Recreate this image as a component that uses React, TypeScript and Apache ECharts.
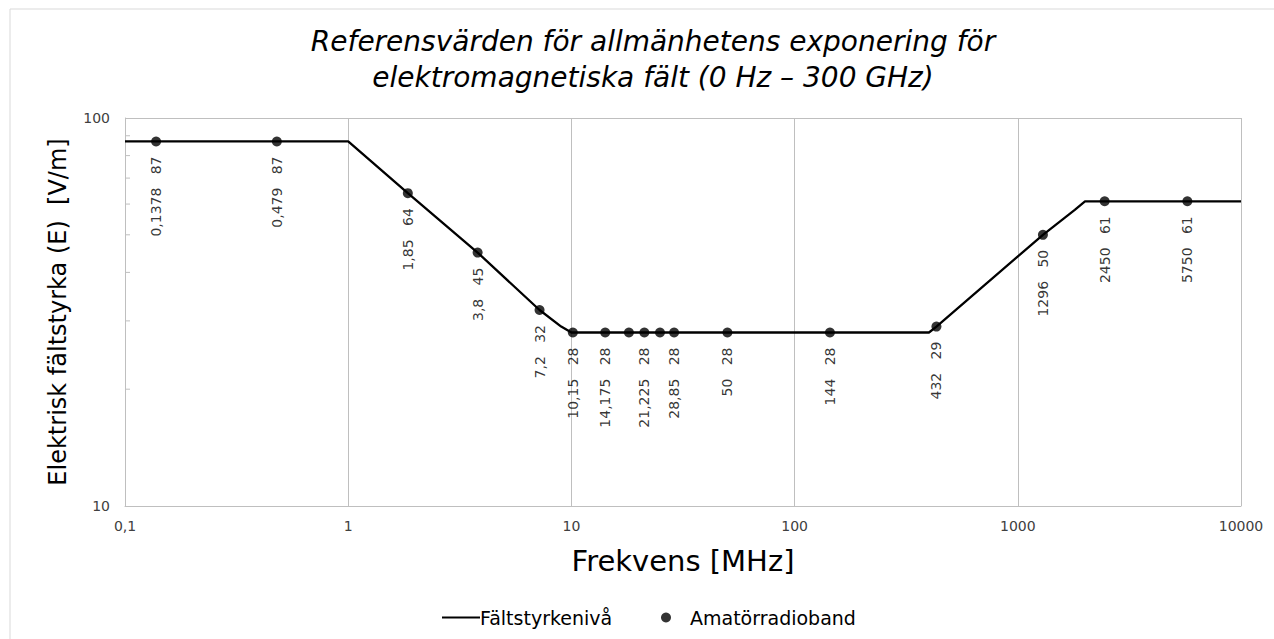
import React, { useEffect, useRef } from 'react';
import * as echarts from 'echarts';

// Field strength reference level line (frequency MHz, V/m)
const lineFreq = [0.1, 1, 1.85, 3.8, 7.2, 9, 10, 400, 432, 1296, 1800, 2000, 10000];
const lineLevel = [87, 87, 64, 45, 32, 29, 28, 28, 29, 50, 58, 61, 61];

// Amateur radio bands (frequency MHz, V/m)
const bandFreq = [0.1378, 0.479, 1.85, 3.8, 7.2, 10.15, 14.175, 18.1, 21.225, 24.94, 28.85, 50, 144, 432, 1296, 2450, 5750];
const bandLevel = [87, 87, 64, 45, 32, 28, 28, 28, 28, 28, 28, 28, 28, 29, 50, 61, 61];
const bandLabelled = [true, true, true, true, true, true, true, false, true, false, true, true, true, true, true, true, true];

const yMinorTicks = [20, 30, 40, 50, 60, 70, 80, 90];

const titleText = 'Referensvärden för allmänhetens exponering för\nelektromagnetiska fält (0 Hz – 300 GHz)';
const xName = 'Frekvens [MHz]';
const yName = 'Elektrisk fältstyrka (E)  [V/m]';
const lineName = 'Fältstyrkenivå';
const bandName = 'Amatörradioband';

const FONT = '"DejaVu Sans", sans-serif';
const fmt = (v: number) => String(v).replace('.', ',');

export default function App() {
  const ref = useRef<HTMLDivElement>(null);
  useEffect(() => {
    document.body.style.margin = '0';
    document.body.style.overflow = 'hidden';
    const chart = echarts.init(ref.current!, null, { renderer: 'svg' });
    chart.setOption({
      animation: false,
      backgroundColor: '#ffffff',
      textStyle: { fontFamily: FONT },
      title: {
        text: titleText,
        left: 648,
        top: 18,
        textAlign: 'center',
        textStyle: { fontFamily: FONT, fontStyle: 'italic', fontWeight: 'normal', fontSize: 28, lineHeight: 36, color: '#000' },
      },
      graphic: [
        { type: 'rect', shape: { x: 10, y: 9, width: 1300, height: 700 }, style: { fill: 'none', stroke: '#d9d9d9', lineWidth: 1 }, silent: true },
      ],
      legend: [
        {
          data: [{ name: lineName, icon: 'rect' }],
          left: 437,
          top: 603,
          itemWidth: 38,
          itemHeight: 2,
          textStyle: { fontFamily: FONT, fontSize: 19, color: '#000', padding: [0, 0, 0, -5] },
        },
        {
          data: [{ name: bandName, icon: 'circle' }],
          left: 656,
          top: 603,
          itemWidth: 38,
          itemHeight: 10,
          textStyle: { fontFamily: FONT, fontSize: 19, color: '#000' },
        },
      ],
      grid: { left: 125, right: 33, top: 118, bottom: 133, containLabel: false },
      xAxis: {
        type: 'log',
        logBase: 10,
        min: 0.1,
        max: 10000,
        name: xName,
        nameLocation: 'middle',
        nameGap: 40,
        nameTextStyle: { fontFamily: FONT, fontSize: 29, color: '#000' },
        axisLine: { show: true, lineStyle: { color: '#bfbfbf', width: 1 } },
        axisTick: { show: false },
        axisLabel: { fontFamily: FONT, fontSize: 14, color: '#404040', margin: 13, formatter: (v: number) => fmt(v) },
        splitLine: { show: true, lineStyle: { color: '#bfbfbf', width: 1 } },
      },
      yAxis: {
        type: 'log',
        logBase: 10,
        min: 10,
        max: 100,
        name: yName,
        nameLocation: 'middle',
        nameGap: 55,
        nameTextStyle: { fontFamily: FONT, fontSize: 24, color: '#000' },
        axisLine: { show: true, lineStyle: { color: '#bfbfbf', width: 1 } },
        axisTick: { show: false },
        axisLabel: { fontFamily: FONT, fontSize: 14, color: '#404040', margin: 15 },
        splitLine: { show: true, lineStyle: { color: '#bfbfbf', width: 1 } },
      },
      series: [
        {
          name: 'minor',
          type: 'custom',
          silent: true,
          data: yMinorTicks.map((v) => [0.1, v]),
          renderItem: (params: any, api: any) => {
            const p = api.coord([api.value(0), api.value(1)]);
            return {
              type: 'line',
              shape: { x1: p[0], y1: p[1], x2: p[0] + 5, y2: p[1] },
              style: { stroke: '#bfbfbf', lineWidth: 1 },
            };
          },
          z: 1,
        },
        {
          name: lineName,
          type: 'line',
          data: lineFreq.map((f, i) => [f, lineLevel[i]]),
          symbol: 'none',
          showSymbol: false,
          lineStyle: { color: '#000', width: 2.3 },
          itemStyle: { color: '#000' },
          z: 2,
        },
        {
          name: bandName,
          type: 'scatter',
          symbol: 'circle',
          symbolSize: 10,
          itemStyle: { color: '#000' },
          data: bandFreq.map((f, i) => ({
            value: [f, bandLevel[i]],
            label: { show: bandLabelled[i] },
          })),
          label: {
            show: true,
            position: 'bottom',
            distance: 10,
            rotate: 90,
            align: 'right',
            verticalAlign: 'middle',
            fontFamily: FONT,
            fontSize: 14,
            color: '#000',
            formatter: (p: any) => `${fmt(p.value[0])}   ${p.value[1]}`,
          },
          z: 3,
        },
      ],
    });
    return () => chart.dispose();
  }, []);
  return <div ref={ref} style={{ width: 1274, height: 639 }} />;
}
